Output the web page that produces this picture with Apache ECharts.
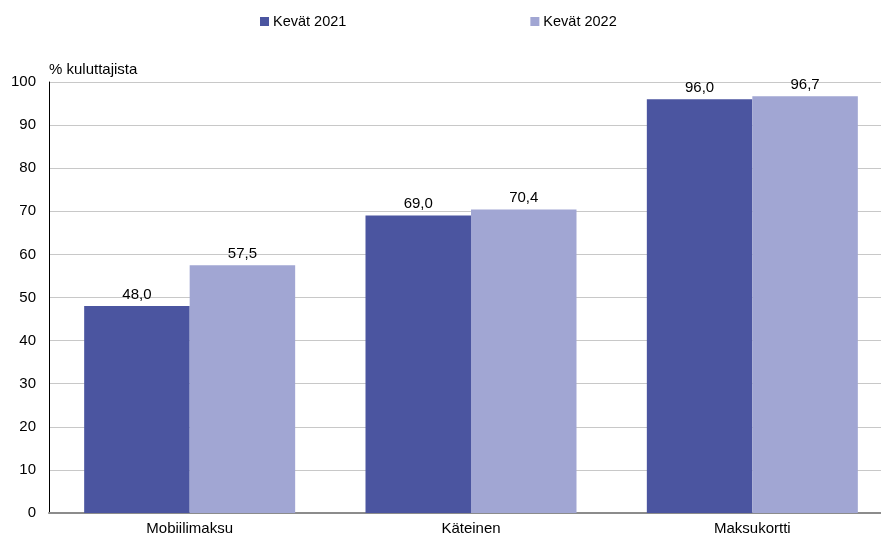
<!DOCTYPE html>
<html><head><meta charset="utf-8">
<script src="https://cdn.jsdelivr.net/npm/echarts@6/dist/echarts.min.js"></script>
<style>html,body{margin:0;padding:0;background:#fff;overflow:hidden;width:881px;height:536px}#c{width:893px;height:536px}</style>
</head><body><div id="c"></div>
<script>
const categories = ['Mobiilimaksu', 'Käteinen', 'Maksukortti'];
const series2021 = [48.0, 69.0, 96.0];
const series2022 = [57.5, 70.4, 96.7];
const seriesNames = ['Kevät 2021', 'Kevät 2022'];
const yTicks = [0, 10, 20, 30, 40, 50, 60, 70, 80, 90, 100];

const font = 'Liberation Sans, Arial, sans-serif';
const chart = echarts.init(document.getElementById('c'), null, {renderer: 'canvas'});
const lbl = {show: true, position: 'top', distance: 4, color: '#000', fontSize: 15, fontFamily: font,
  formatter: p => p.value.toFixed(1).replace('.', ',')};
chart.setOption({
  animation: false,
  backgroundColor: '#fff',
  legend: {
    top: 9, left: 255, itemWidth: 9, itemHeight: 9, itemGap: 184,
    icon: 'rect',
    textStyle: {fontSize: 14.5, fontFamily: font, color: '#000', padding: [0,0,0,-1]},
    data: seriesNames
  },
  grid: {left: 49, right: 0, top: 82, bottom: 23, containLabel: false},
  xAxis: {
    type: 'category', data: categories,
    axisLine: {lineStyle: {color: '#8c8c8c', width: 2}},
    axisTick: {show: false},
    axisLabel: {color: '#000', fontSize: 15, fontFamily: font, margin: 8}
  },
  yAxis: {
    type: 'value', min: yTicks[0], max: yTicks[yTicks.length-1], interval: 10,
    name: '% kuluttajista', nameLocation: 'end', nameGap: 5,
    nameTextStyle: {color: '#000', fontSize: 15, fontFamily: font, align: 'left', padding: [0,0,0,0]},
    axisLine: {show: true, lineStyle: {color: '#000', width: 1}},
    axisTick: {show: false},
    axisLabel: {color: '#000', fontSize: 15, fontFamily: font, margin: 13},
    splitLine: {lineStyle: {color: '#c8c8c8', width: 1}}
  },
  series: [
    {name: seriesNames[0], type: 'bar', data: series2021, barGap: '0%', barCategoryGap: '25%',
     itemStyle: {color: '#4b55a0'}, label: lbl},
    {name: seriesNames[1], type: 'bar', data: series2022,
     itemStyle: {color: '#a1a6d3'}, label: lbl}
  ]
});
</script></body></html>
